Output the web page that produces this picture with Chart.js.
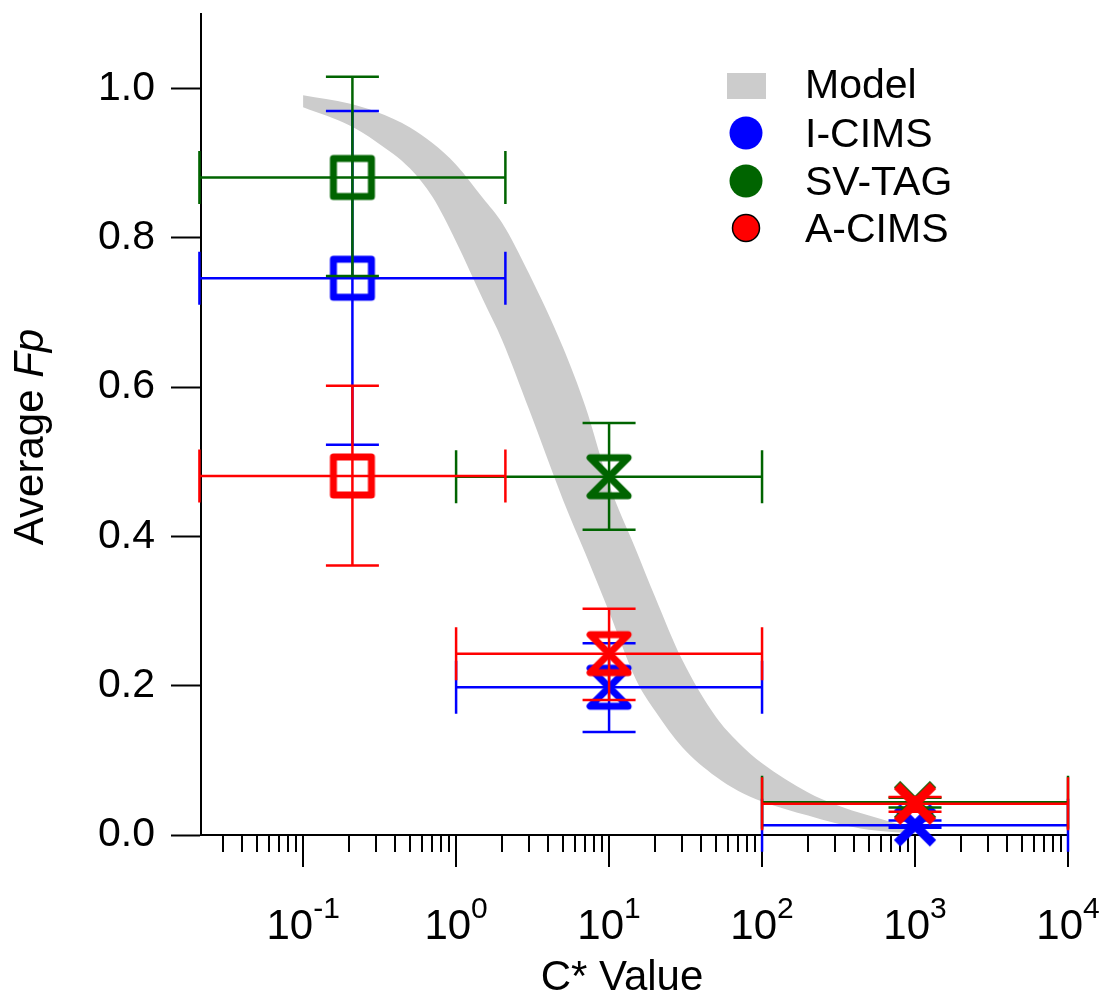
<!DOCTYPE html>
<html>
<head>
<meta charset="utf-8">
<script src="https://cdn.jsdelivr.net/npm/chart.js@4/dist/chart.umd.min.js"></script>
<style>
  body { margin: 0; background: #fff; }
</style>
</head>
<body>
<canvas id="fp" width="1104" height="997"></canvas>
<script>
const FONT = "'Liberation Sans', Arial, sans-serif";

// C* bins (centre and range of each bin)
const cStar   = [0.21, 10, 1000];
const cStarLo = [0.021, 1, 100];
const cStarHi = [2.1, 100, 10000];

// average Fp per instrument, with low / high ends of the error bars
const icimsFp = [0.746, 0.198, 0.013];
const icimsLo = [0.523, 0.138, 0.0096];
const icimsHi = [0.970, 0.257, 0.0194];

const svtagFp = [0.881, 0.480, 0.044];
const svtagLo = [0.749, 0.409, 0.037];
const svtagHi = [1.016, 0.552, 0.050];

const acimsFp = [0.481, 0.243, 0.042];
const acimsLo = [0.361, 0.181, 0.031];
const acimsHi = [0.602, 0.303, 0.051];

// model envelope (upper / lower Fp vs C*)
const modelC  = [0.1, 0.2, 0.3, 0.5, 0.7, 1, 1.5, 2, 3, 5, 7, 10, 15, 20, 30, 50, 70, 100, 200, 300, 500, 1000];
const modelHi = [0.991, 0.980, 0.969, 0.948, 0.927, 0.898, 0.853, 0.820, 0.752, 0.653, 0.574, 0.470, 0.382, 0.319, 0.235, 0.158, 0.124, 0.096, 0.057, 0.041, 0.026, 0.008];
const modelLo = [0.975, 0.951, 0.929, 0.893, 0.855, 0.795, 0.717, 0.663, 0.570, 0.449, 0.377, 0.299, 0.208, 0.166, 0.118, 0.078, 0.059, 0.045, 0.026, 0.016, 0.007, 0.002];

const xTickPowers = [-1, 0, 1, 2, 3, 4];
const yTicks = [0, 0.2, 0.4, 0.6, 0.8, 1.0];

const BLUE = '#0000ff', GREEN = '#006400', RED = '#ff0000', GREY = '#cccccc';

// open marker images: square, hourglass, x
function marker(shape, color) {
  const c = document.createElement('canvas');
  c.width = 60; c.height = 60;
  const g = c.getContext('2d');
  g.strokeStyle = color;
  g.lineJoin = 'round';
  g.beginPath();
  if (shape === 'square') {
    g.lineWidth = 7;
    g.rect(11, 11, 38, 38);
  } else if (shape === 'hourglass') {
    g.lineWidth = 7;
    g.moveTo(11, 11); g.lineTo(49, 11); g.lineTo(11, 49); g.lineTo(49, 49);
    g.closePath();
  } else {
    g.lineWidth = 9;
    g.moveTo(12, 12); g.lineTo(48, 48);
    g.moveTo(48, 12); g.lineTo(12, 48);
  }
  g.stroke();
  return c;
}

function series(label, color, fp, lo, hi, order) {
  return {
    label: label,
    color: color,
    data: cStar.map((c, i) => ({ x: c, y: fp[i] })),
    xLo: cStarLo, xHi: cStarHi, yLo: lo, yHi: hi,
    pointStyle: [marker('square', color), marker('hourglass', color), marker('x', color)],
    pointRadius: 20,
    showLine: false,
    clip: false,
    order: order
  };
}

// error bars are drawn just before each series' markers
const errorBars = {
  id: 'errorBars',
  beforeDatasetDraw(chart, args) {
    const ds = chart.data.datasets[args.index];
    if (!ds.yLo) return;
    const xs = chart.scales.x, ys = chart.scales.y, ctx = chart.ctx;
    const cap = 26.5;
    ctx.save();
    ctx.strokeStyle = ds.color;
    ctx.lineWidth = 2.5;
    ds.data.forEach((p, i) => {
      const px = xs.getPixelForValue(p.x), py = ys.getPixelForValue(p.y);
      const x0 = xs.getPixelForValue(ds.xLo[i]), x1 = xs.getPixelForValue(ds.xHi[i]);
      const y0 = ys.getPixelForValue(ds.yLo[i]), y1 = ys.getPixelForValue(ds.yHi[i]);
      ctx.beginPath();
      ctx.moveTo(x0, py); ctx.lineTo(x1, py);
      ctx.moveTo(px, y0); ctx.lineTo(px, y1);
      ctx.moveTo(x0, py - cap); ctx.lineTo(x0, py + cap);
      ctx.moveTo(x1, py - cap); ctx.lineTo(x1, py + cap);
      ctx.moveTo(px - cap, y0); ctx.lineTo(px + cap, y0);
      ctx.moveTo(px - cap, y1); ctx.lineTo(px + cap, y1);
      ctx.stroke();
    });
    ctx.restore();
  }
};

// log tick marks, superscript tick labels, titles and legend
const axisDecor = {
  id: 'axisDecor',
  beforeDatasetsDraw(chart) {
    const xs = chart.scales.x, ctx = chart.ctx;
    const base = chart.chartArea.bottom;
    ctx.save();
    ctx.strokeStyle = '#000';
    ctx.lineWidth = 2;
    ctx.beginPath();
    for (let d = -2; d <= 4; d++) {
      for (let m = 1; m <= 9; m++) {
        const v = m * Math.pow(10, d);
        if (v < xs.min * 0.999 || v > xs.max * 1.001) continue;
        const px = Math.round(xs.getPixelForValue(v));
        ctx.moveTo(px, base);
        ctx.lineTo(px, base + (m === 1 ? 32 : 17));
      }
    }
    ctx.stroke();
    ctx.restore();
  },
  afterDraw(chart) {
    const xs = chart.scales.x, ctx = chart.ctx;
    ctx.save();
    ctx.fillStyle = '#000';
    ctx.textBaseline = 'alphabetic';

    // decade labels
    xTickPowers.forEach(p => {
      const px = xs.getPixelForValue(Math.pow(10, p));
      const sup = String(p);
      ctx.font = `42px ${FONT}`;
      const wBase = ctx.measureText('10').width;
      ctx.font = `30px ${FONT}`;
      const wSup = ctx.measureText(sup).width;
      const left = px - (wBase + wSup) / 2;
      ctx.font = `42px ${FONT}`;
      ctx.fillText('10', left, 939);
      ctx.font = `30px ${FONT}`;
      ctx.fillText(sup, left + wBase, 918);
    });

    // x title
    ctx.font = `42px ${FONT}`;
    ctx.textAlign = 'center';
    ctx.fillText('C* Value', 622, 990);

    // y title with italic Fp
    ctx.textAlign = 'left';
    ctx.translate(43, 437);
    ctx.rotate(-Math.PI / 2);
    ctx.font = `42px ${FONT}`;
    const a = 'Average ';
    const wa = ctx.measureText(a).width;
    ctx.font = `italic 42px ${FONT}`;
    const wb = ctx.measureText('Fp').width;
    const start = -(wa + wb) / 2;
    ctx.font = `42px ${FONT}`;
    ctx.fillText(a, start, 0);
    ctx.font = `italic 42px ${FONT}`;
    ctx.fillText('Fp', start + wa, 0);
    ctx.restore();

    // legend
    const ds = chart.data.datasets;
    ctx.save();
    ctx.font = `41px ${FONT}`;
    ctx.fillStyle = GREY;
    ctx.fillRect(727, 73, 39, 26);
    ctx.fillStyle = '#000';
    ctx.fillText(ds[0].label, 805, 98);
    const rows = [
      { ds: ds[2], y: 133, r: 16.5, edge: false },
      { ds: ds[3], y: 181, r: 16.5, edge: false },
      { ds: ds[4], y: 228, r: 13.5, edge: true }
    ];
    rows.forEach(row => {
      ctx.beginPath();
      ctx.arc(746, row.y, row.r, 0, Math.PI * 2);
      ctx.fillStyle = row.ds.color;
      ctx.fill();
      if (row.edge) {
        ctx.lineWidth = 1.5;
        ctx.strokeStyle = '#000';
        ctx.stroke();
      }
      ctx.fillStyle = '#000';
      ctx.fillText(row.ds.label, 805, row.y + 14);
    });
    ctx.restore();
  }
};

new Chart(document.getElementById('fp'), {
  type: 'scatter',
  data: {
    datasets: [
      {
        label: 'Model',
        data: modelC.map((c, i) => ({ x: c, y: modelHi[i] })),
        showLine: true,
        fill: '+1',
        backgroundColor: GREY,
        borderColor: 'rgba(0,0,0,0)',
        borderWidth: 0,
        pointRadius: 0,
        cubicInterpolationMode: 'monotone',
        order: 20
      },
      {
        label: 'Model lower',
        data: modelC.map((c, i) => ({ x: c, y: modelLo[i] })),
        showLine: true,
        fill: false,
        borderColor: 'rgba(0,0,0,0)',
        borderWidth: 0,
        pointRadius: 0,
        cubicInterpolationMode: 'monotone',
        order: 21
      },
      series('I-CIMS', BLUE, icimsFp, icimsLo, icimsHi, 3),
      series('SV-TAG', GREEN, svtagFp, svtagLo, svtagHi, 2),
      series('A-CIMS', RED, acimsFp, acimsLo, acimsHi, 1)
    ]
  },
  options: {
    responsive: false,
    animation: false,
    events: [],
    layout: { autoPadding: false, padding: { top: 14, right: 36, bottom: 0, left: 0 } },
    plugins: {
      legend: { display: false },
      tooltip: { enabled: false },
      filler: { drawTime: 'beforeDatasetsDraw' }
    },
    scales: {
      x: {
        type: 'logarithmic',
        min: 0.0215,
        max: 10000,
        ticks: { display: false },
        grid: { display: false },
        border: { color: '#000', width: 2 },
        afterFit: s => { s.height = 162; s.paddingLeft = 0; s.paddingRight = 0; }
      },
      y: {
        type: 'linear',
        min: 0,
        max: 1.1,
        afterBuildTicks: s => { s.ticks = yTicks.map(v => ({ value: v })); },
        ticks: {
          color: '#000',
          font: { family: FONT, size: 41 },
          padding: 16,
          callback: v => Number(v).toFixed(1)
        },
        grid: { drawOnChartArea: false, color: '#000', tickLength: 30, tickWidth: 2 },
        border: { color: '#000', width: 2 },
        afterFit: s => { s.width = 201; s.paddingTop = 0; s.paddingBottom = 0; }
      }
    }
  },
  plugins: [errorBars, axisDecor]
});
</script>
</body>
</html>
